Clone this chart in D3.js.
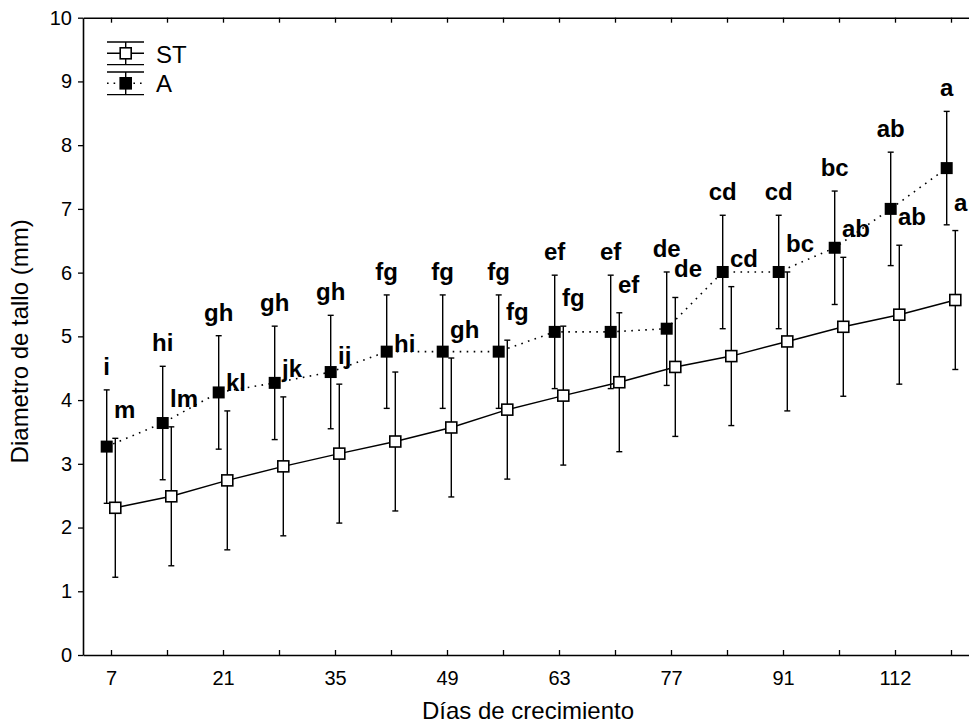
<!DOCTYPE html>
<html>
<head>
<meta charset="utf-8">
<script src="https://cdn.jsdelivr.net/npm/d3@7"></script>
<style>
  html, body { margin: 0; padding: 0; background: #fff; }
  svg { display: block; font-family: "Liberation Sans", Arial, sans-serif; }
</style>
</head>
<body>
<svg id="chart" width="969" height="727"></svg>
<script>
// ---- Data ----
const categories = ["7","14","21","28","35","42","49","56","63","70","77","84","91","105","112","119"];
const tickLabels = ["7","21","35","49","63","77","91","112"];
const seriesNames = ["ST","A"];
const stMean = [2.31, 2.49, 2.74, 2.96, 3.16, 3.35, 3.57, 3.85, 4.07, 4.28, 4.52, 4.69, 4.92, 5.15, 5.34, 5.57];
const stErr  = [1.09, 1.09, 1.09, 1.09, 1.09, 1.09, 1.09, 1.09, 1.09, 1.09, 1.09, 1.09, 1.09, 1.09, 1.09, 1.09];
const aMean  = [3.27, 3.64, 4.12, 4.27, 4.44, 4.76, 4.76, 4.76, 5.07, 5.07, 5.12, 6.01, 6.01, 6.39, 7.00, 7.64];
const aErr   = [0.89, 0.89, 0.89, 0.89, 0.89, 0.89, 0.89, 0.89, 0.89, 0.89, 0.89, 0.89, 0.89, 0.89, 0.89, 0.89];
const stLetters = ["m","lm","kl","jk","ij","hi","gh","fg","fg","ef","de","cd","bc","ab","ab","a"];
const aLetters  = ["i","hi","gh","gh","gh","fg","fg","fg","ef","ef","de","cd","cd","bc","ab","a"];
const yTicks = [0,1,2,3,4,5,6,7,8,9,10];

// ---- Layout ----
const svg = d3.select("#chart");
const pLeft = 83, pRight = 979, pTop = 17.7, pBottom = 655;
const x = d3.scalePoint().domain(categories).range([pLeft, pRight]).padding(0.5);
const y = d3.scaleLinear().domain([0, 10]).range([pBottom, pTop]);
const off = 4.3;

const stData = categories.map((c, i) => ({c, m: stMean[i], e: stErr[i], lab: stLetters[i]}));
const aData  = categories.map((c, i) => ({c, m: aMean[i], e: aErr[i], lab: aLetters[i]}));

// ---- Axes ----
const axisStroke = 1.6;
const gx = svg.append("g").attr("transform", `translate(0,${pBottom})`)
  .call(d3.axisBottom(x).tickSize(-5).tickSizeOuter(0).tickPadding(16)
    .tickFormat(d => tickLabels.includes(d) ? d : ""));
const gt = svg.append("g").attr("transform", `translate(0,${pTop})`)
  .call(d3.axisTop(x).tickSize(-5).tickSizeOuter(0).tickFormat(""));
const gy = svg.append("g").attr("transform", `translate(${pLeft},0)`)
  .call(d3.axisLeft(y).tickValues(yTicks).tickSize(5).tickSizeOuter(0).tickPadding(6));
[gx, gt, gy].forEach(g => {
  g.selectAll("path.domain").attr("stroke", "#000").attr("stroke-width", axisStroke);
  g.selectAll(".tick line").attr("stroke", "#000").attr("stroke-width", 1.3);
  g.selectAll(".tick text").attr("fill", "#000").style("font-size", "20px")
    .style("font-family", "'Liberation Sans', Arial, sans-serif");
});

// Axis titles
svg.append("text").attr("x", (pLeft + pRight) / 2 - 3).attr("y", 719)
  .attr("text-anchor", "middle").style("font-size", "24px").text("Días de crecimiento");
svg.append("text").attr("transform", `translate(28,${(pTop + pBottom) / 2 + 5}) rotate(-90)`)
  .attr("text-anchor", "middle").style("font-size", "24px").text("Diametro de tallo (mm)");

// ---- Series ----
const plot = svg.append("g");

// lines
plot.append("path").datum(stData)
  .attr("fill", "none").attr("stroke", "#000").attr("stroke-width", 1.5)
  .attr("d", d3.line().x(d => x(d.c) + off).y(d => y(d.m)));
plot.append("path").datum(aData)
  .attr("fill", "none").attr("stroke", "#000").attr("stroke-width", 1.6)
  .attr("stroke-dasharray", "1.6,5.4")
  .attr("d", d3.line().x(d => x(d.c) - off).y(d => y(d.m)));

function errorBars(data, dx) {
  const g = plot.append("g").attr("stroke", "#000").attr("stroke-width", 1.4);
  g.selectAll("line.v").data(data).join("line").attr("class", "v")
    .attr("x1", d => x(d.c) + dx).attr("x2", d => x(d.c) + dx)
    .attr("y1", d => y(d.m - d.e)).attr("y2", d => y(d.m + d.e));
  g.selectAll("line.t").data(data).join("line").attr("class", "t")
    .attr("x1", d => x(d.c) + dx - 3).attr("x2", d => x(d.c) + dx + 3)
    .attr("y1", d => y(d.m + d.e)).attr("y2", d => y(d.m + d.e));
  g.selectAll("line.b").data(data).join("line").attr("class", "b")
    .attr("x1", d => x(d.c) + dx - 3).attr("x2", d => x(d.c) + dx + 3)
    .attr("y1", d => y(d.m - d.e)).attr("y2", d => y(d.m - d.e));
}
errorBars(aData, -off);
errorBars(stData, off);

const ms = 11;
plot.selectAll("rect.st").data(stData).join("rect").attr("class", "st")
  .attr("x", d => x(d.c) + off - ms / 2).attr("y", d => y(d.m) - ms / 2)
  .attr("width", ms).attr("height", ms)
  .attr("fill", "#fff").attr("stroke", "#000").attr("stroke-width", 1.6);
plot.selectAll("rect.a").data(aData).join("rect").attr("class", "a")
  .attr("x", d => x(d.c) - off - ms / 2 - 0.5).attr("y", d => y(d.m) - ms / 2 - 0.5)
  .attr("width", ms + 1).attr("height", ms + 1)
  .attr("fill", "#000");

// letters
const labFont = "bold 24px 'Liberation Sans', Arial, sans-serif";
plot.selectAll("text.al").data(aData).join("text").attr("class", "al")
  .attr("x", d => x(d.c) - off).attr("y", d => y(d.m + d.e) - 15)
  .attr("text-anchor", "middle").style("font", labFont).text(d => d.lab);
plot.selectAll("text.sl").data(stData).join("text").attr("class", "sl")
  .attr("x", d => x(d.c) + 3).attr("y", d => y(d.m + d.e) - 20)
  .attr("text-anchor", "start").style("font", labFont).text(d => d.lab);

// ---- Legend ----
const lg = svg.append("g");
const lx1 = 107, lx2 = 144, lcx = 125.7;
const entries = [
  {name: seriesNames[0], cy: 53.3, half: 11.3, dash: null, fill: "#fff", ty: 62.7},
  {name: seriesNames[1], cy: 83.3, half: 11.3, dash: "1.6,5", fill: "#000", ty: 91.7}
];
entries.forEach(e => {
  const g = lg.append("g").attr("stroke", "#000");
  g.append("line").attr("x1", lx1).attr("x2", lx2).attr("y1", e.cy - e.half).attr("y2", e.cy - e.half).attr("stroke-width", 1.4);
  g.append("line").attr("x1", lx1).attr("x2", lx2).attr("y1", e.cy + e.half).attr("y2", e.cy + e.half).attr("stroke-width", 1.4);
  g.append("line").attr("x1", lcx).attr("x2", lcx).attr("y1", e.cy - e.half).attr("y2", e.cy + e.half).attr("stroke-width", 1.4);
  g.append("line").attr("x1", lx1).attr("x2", lx2).attr("y1", e.cy).attr("y2", e.cy)
    .attr("stroke-width", 1.5).attr("stroke-dasharray", e.dash);
  g.append("rect").attr("x", lcx - ms / 2).attr("y", e.cy - ms / 2).attr("width", ms).attr("height", ms)
    .attr("fill", e.fill).attr("stroke-width", 1.6);
  lg.append("text").attr("x", 156).attr("y", e.ty).style("font-size", "24px").text(e.name);
});
</script>
</body>
</html>
